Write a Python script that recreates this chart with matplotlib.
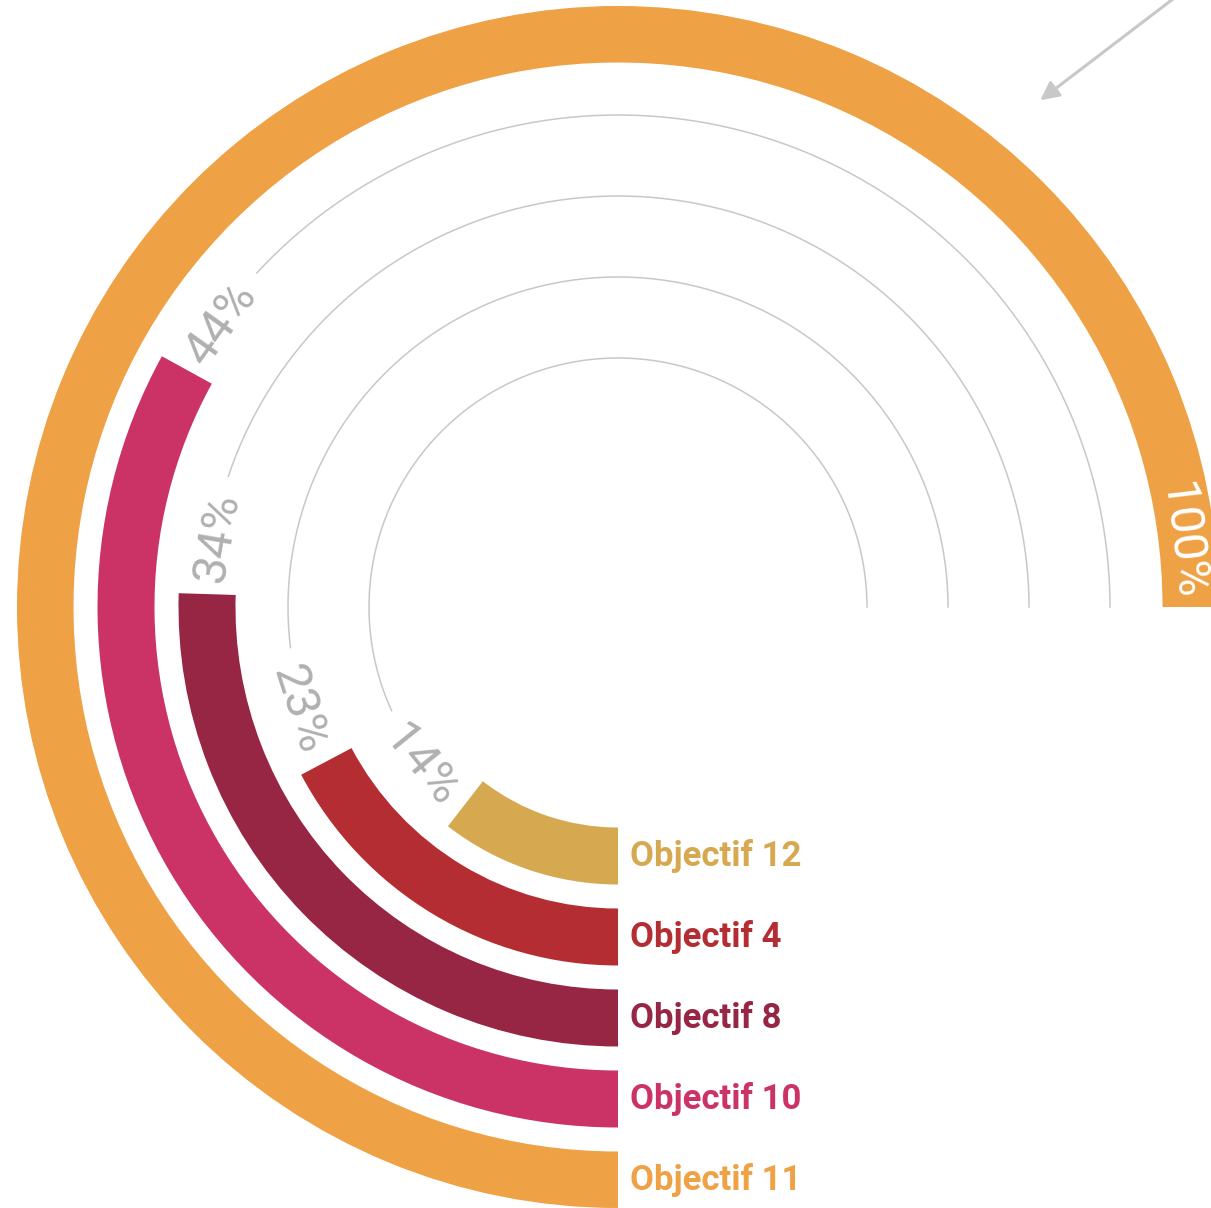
import numpy as np
import matplotlib.pyplot as plt

objectifs = ['Objectif 12', 'Objectif 4', 'Objectif 8', 'Objectif 10', 'Objectif 11']
valeurs = [14, 23, 34, 44, 100]
etiquettes = ['14%', '23%', '34%', '44%', '100%']
couleurs = ['#D6A951', '#B42D33', '#962644', '#CB3366', '#EFA145']

W, H = 1211, 1208
cx, cy, R = 618, 601, 601          # centre et rayon de l'axe (pixels)
rayons = 249 + 81 * np.arange(len(valeurs))
epaisseur = 57
tour = 1.5 * np.pi                 # 100 % = 270 degres
gris = '#c8c8c8'

fig = plt.figure(figsize=(W / 100, H / 100), dpi=100)
ax = fig.add_axes([(cx - R) / W, (cy - R) / H, 2 * R / W, 2 * R / H], projection='polar')
ax.set_theta_zero_location('S')
ax.set_theta_direction(-1)
ax.set_ylim(0, R)
ax.axis('off')

angles = [v / 100 * tour for v in valeurs]
ax.barh(rayons, angles, left=0, height=epaisseur, color=couleurs)

for nom, r, a, lab, c in zip(objectifs, rayons, angles, etiquettes, couleurs):
    if a < tour:
        t_lab = a + 58 / r
        t = np.linspace(t_lab + 62 / r, tour, 300)
        ax.plot(t, np.full_like(t, r), color=gris, lw=1.1)
        col = '#b0b0b0'
    else:
        t_lab = a - 67 / r
        col = 'white'
    phi = 270 - np.degrees(t_lab)
    rot = phi - 90 if 0 < phi < 180 else phi + 90
    ax.text(t_lab, r, lab, rotation=rot, rotation_mode='anchor', ha='center', va='center_baseline',
            color=col, fontsize=35, family='Roboto', fontweight='normal')
    ax.annotate(nom, xy=(0, r), xytext=(12, 0), textcoords='offset pixels',
                ha='left', va='center', color=c, fontsize=25, family='Roboto', fontweight='bold')

# fleche grise en haut a droite
ax.annotate('', xy=(1038, H - 102), xycoords='figure pixels',
            xytext=(1190, H + 14), textcoords='figure pixels',
            arrowprops=dict(arrowstyle='-|>', color=gris, lw=2.2, mutation_scale=28))

fig.savefig('out.png', dpi=100, facecolor='white')
